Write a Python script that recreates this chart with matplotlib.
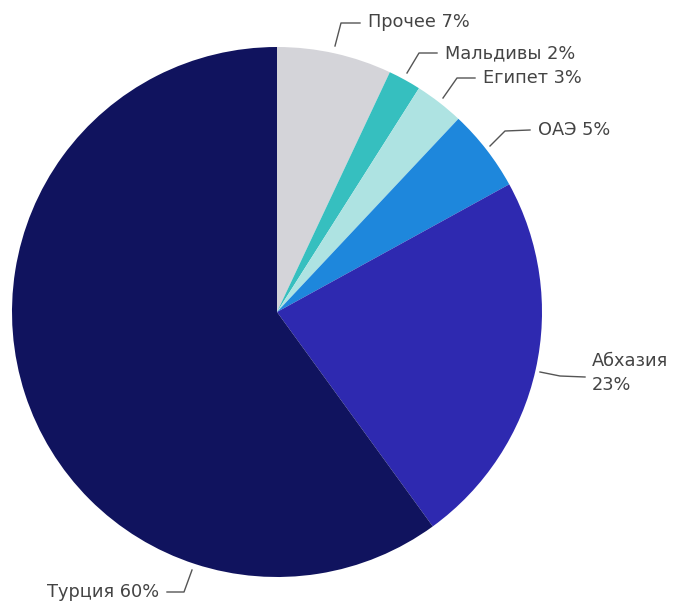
import matplotlib
matplotlib.use("Agg")
import matplotlib.pyplot as plt

# data, clockwise from 12 o'clock
labels = ["Прочее", "Мальдивы", "Египет", "ОАЭ", "Абхазия", "Турция"]
shares = [7, 2, 3, 5, 23, 60]
colors = ["#d4d4d9", "#36bfbf", "#aee3e2", "#1e87dc", "#2e29b0", "#10135e"]

W, H = 677, 605
fig = plt.figure(figsize=(W / 100, H / 100), dpi=100)
ax = fig.add_axes([0, 0, 1, 1])

# with y inverted, counterclock=True draws clockwise on screen; start at top
ax.pie(shares, colors=colors, startangle=-90, counterclock=True,
       center=(277, 312), radius=265, frame=True,
       wedgeprops=dict(linewidth=0))
ax.set_xlim(0, W)
ax.set_ylim(H, 0)  # image-like coords, y down
ax.set_aspect("equal")
ax.axis("off")

# leader lines: (start, elbow, end) and text anchor, in pixel coords
leaders = {
    "Прочее":   [(335, 46), (341, 23), (360, 23)],
    "Мальдивы": [(407, 73), (419, 53), (437, 53)],
    "Египет":   [(443, 98), (457, 78), (475, 78)],
    "ОАЭ":      [(490, 146), (505, 131), (530, 130)],
    "Абхазия":  [(540, 372), (560, 376), (585, 377)],
    "Турция":   [(192, 570), (184, 592), (167, 592)],
}
text_pos = {
    "Прочее": (368, 22, "left"), "Мальдивы": (445, 53, "left"),
    "Египет": (483, 78, "left"), "ОАЭ": (538, 130, "left"),
    "Абхазия": (592, 373, "left"), "Турция": (159, 592, "right"),
}

for lab, val in zip(labels, shares):
    pts = leaders[lab]
    ax.plot([p[0] for p in pts], [p[1] for p in pts], color="#555555", lw=1.0)
    x, y, ha = text_pos[lab]
    txt = f"{lab}\n{val}%" if lab == "Абхазия" else f"{lab} {val}%"
    ax.text(x, y, txt, ha=ha, va="center", fontsize=12.8, color="#444444",
            family=["DejaVu Sans"], linespacing=1.4)

fig.savefig("out.png", dpi=100)
